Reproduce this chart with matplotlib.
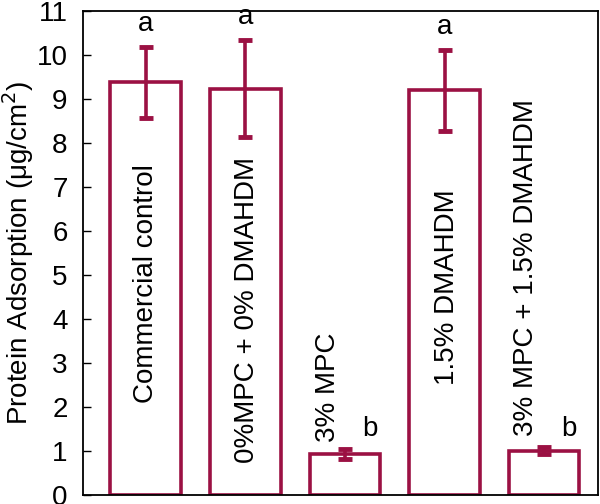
import matplotlib
matplotlib.use("Agg")
import matplotlib.pyplot as plt
import numpy as np

plt.rcParams['font.family'] = ['Liberation Sans', 'DejaVu Sans']

# dados
groups = ['Commercial control', '0%MPC + 0% DMAHDM', '3% MPC',
          '1.5% DMAHDM', '3% MPC + 1.5% DMAHDM']
adsorption = [9.38, 9.24, 0.93, 9.20, 1.01]
sd = [0.81, 1.11, 0.12, 0.92, 0.07]
letters = ['a', 'a', 'b', 'a', 'b']

# posicao dos rotulos dentro das barras (layout)
label_dx = [0.0, 0.02, -0.17, 0.02, -0.18]
label_y = [4.80, 4.21, 2.44, 4.73, 5.16]

color = '#9B1143'
x = np.arange(len(groups))

fig = plt.figure(figsize=(6, 5.04), dpi=100)
ax = fig.add_axes([0.138, 0.018, 0.859, 0.960])

ax.bar(x, adsorption, width=0.71, color='white', edgecolor=color, linewidth=2.6, zorder=2)
ax.errorbar(x, adsorption, yerr=sd, fmt='none', ecolor=color, elinewidth=2.6,
            capsize=5, capthick=3.5, zorder=3)

for i in range(len(groups)):
    ax.text(x[i] + label_dx[i], label_y[i], groups[i], rotation=90,
            ha='center', va='center', fontsize=20)
    if letters[i] == 'a':
        ax.text(x[i], adsorption[i] + sd[i] + 0.22, letters[i],
                ha='center', va='bottom', fontsize=20)
    else:
        ax.text(x[i] + 0.25, 1.2, letters[i], ha='center', va='bottom', fontsize=20)

ax.set_xlim(-0.633, 4.543)
ax.set_ylim(0, 11)
ax.set_yticks(range(0, 12))
ax.set_xticks([])
ax.tick_params(axis='y', direction='in', length=6, width=1, pad=11, labelsize=20)
for s in ax.spines.values():
    s.set_linewidth(1.3)
ax.set_ylabel('Protein Adsorption (μg/cm$^2$)', fontsize=20)
ax.yaxis.set_label_coords(-0.09, 0.5)

fig.savefig('out.png', dpi=100)
